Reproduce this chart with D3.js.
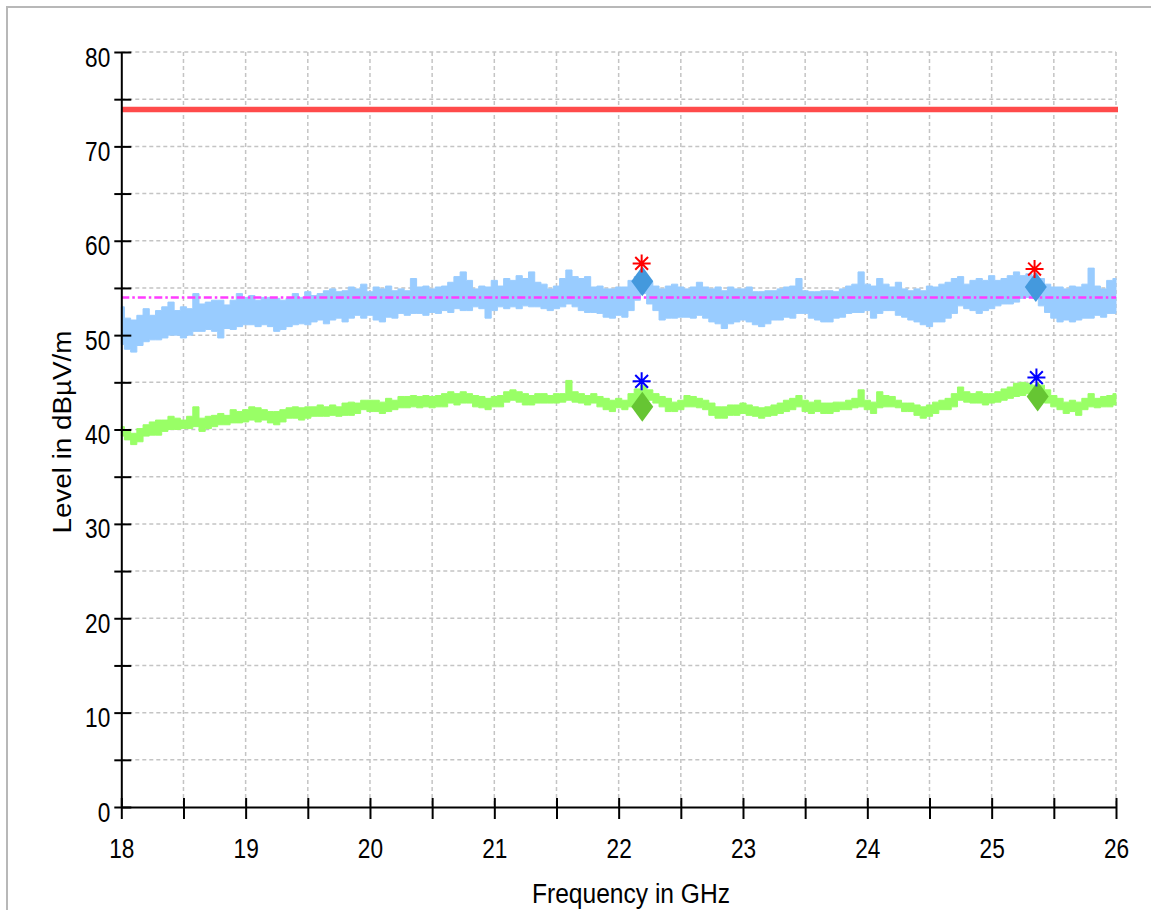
<!DOCTYPE html>
<html>
<head>
<meta charset="utf-8">
<script src="https://cdn.jsdelivr.net/npm/d3@7/dist/d3.min.js"></script>
<style>
  body { margin: 0; background: #fff; }
  text { font-family: "Liberation Sans", Arial, sans-serif; }
</style>
</head>
<body>
<script>
const width = 1151;
const height = 910;

const F_MIN = 18, F_MAX = 26, STEP = 0.05;

// sample frequencies (GHz) of the read-off traces
const freqs = d3.range(0, 161).map(i => +(F_MIN + i * STEP).toFixed(2));

// peak trace envelope (dBµV/m)
const peakHi = [
  53.0, 51.8, 51.6, 52.1, 52.8, 52.1, 52.6, 53.0, 53.5, 52.6,
  53.0, 52.8, 54.4, 53.3, 53.5, 53.7, 53.7, 53.2, 53.7, 54.4,
  54.0, 54.2, 53.7, 54.0, 54.0, 53.9, 53.7, 53.9, 54.4, 54.0,
  54.6, 54.2, 54.4, 54.7, 54.9, 54.6, 54.7, 55.1, 54.9, 55.4,
  54.6,
  55.1, 54.9, 55.2, 54.7, 54.9, 54.7, 56.0, 55.1, 55.2, 54.9,
  55.1, 55.2, 55.6, 56.2, 56.7, 55.8, 54.9, 55.2, 55.1, 55.8,
  55.2, 56.0, 55.8, 56.3, 56.0, 56.7, 55.6, 55.4, 54.9, 55.2,
  56.0, 56.9, 56.2, 56.0, 56.2, 55.1, 55.2, 54.9, 54.9, 55.1,
  55.1, 55.8, 56.2, 56.3, 55.6, 55.2, 54.9, 55.2, 55.4, 55.1,
  54.9, 55.1, 55.6, 55.1, 54.9, 55.1, 54.7, 55.1, 54.9, 54.9,
  55.1, 54.6, 54.6, 54.7, 54.7, 54.9, 55.1, 55.2, 56.0, 54.7,
  54.6, 54.6, 54.7, 54.7, 54.6, 54.9, 55.2, 55.4, 56.7, 55.4,
  55.2, 56.0, 55.4, 55.1, 55.6, 54.9, 54.7, 54.9, 54.7, 55.2,
  55.1, 55.4, 55.6, 56.0, 56.2, 55.4, 55.8, 56.0, 55.8, 56.3,
  55.8, 56.0, 56.3, 56.7, 56.3, 56.5, 56.2, 56.0, 55.4, 55.1,
  55.1, 54.9, 55.2, 55.1, 55.4, 57.1, 55.2, 54.9, 55.8, 56.0
];
const peakLo = [
  49.0, 48.5, 48.2, 48.9, 49.3, 49.5, 49.5, 49.7, 50.0, 50.0,
  49.7, 50.0, 50.4, 50.4, 50.6, 50.4, 49.7, 50.7, 50.6, 50.9,
  51.1, 51.1, 50.9, 51.1, 50.9, 50.4, 50.6, 50.9, 51.1, 51.2,
  51.1, 51.4, 51.6, 51.2, 51.6, 51.8, 51.4, 51.8, 52.1, 51.8,
  52.1,
  51.6, 51.4, 51.9, 51.8, 52.3, 52.1, 52.3, 52.3, 52.1, 52.4,
  52.3, 52.6, 52.4, 52.8, 52.6, 52.6, 53.0, 52.8, 51.8, 52.6,
  53.0, 52.8, 53.0, 52.8, 53.1, 53.0, 53.0, 52.8, 52.6, 52.8,
  53.0, 53.3, 53.0, 52.6, 52.4, 52.4, 52.3, 51.9, 51.8, 52.1,
  51.9, 52.6, 53.7, 54.4, 53.3, 52.6, 51.6, 51.8, 51.8, 51.9,
  51.9, 51.8, 52.1, 51.8, 51.4, 51.2, 50.7, 51.2, 51.4, 51.6,
  51.4, 51.1, 50.9, 51.2, 51.6, 51.6, 51.9, 51.8, 52.3, 52.3,
  51.8, 51.6, 51.4, 51.4, 51.8, 51.9, 52.3, 52.4, 52.4, 52.6,
  51.8, 52.3, 52.6, 52.6, 52.1, 51.9, 51.6, 51.4, 51.1, 50.9,
  51.4, 51.4, 51.8, 52.3, 53.1, 52.8, 52.6, 52.3, 52.6, 52.8,
  53.1, 53.3, 53.3, 53.5, 53.9, 54.0, 53.9, 53.1, 52.4, 51.8,
  51.4, 51.6, 51.4, 51.6, 51.8, 51.8, 52.1, 51.9, 52.3, 52.3
];

// average trace envelope (dBµV/m)
const avgHi = [
  40.3, 40.0, 39.6, 40.1, 40.5, 40.8, 41.0, 41.0, 41.4, 41.2,
  41.0, 41.4, 42.4, 41.2, 41.4, 41.5, 41.7, 41.5, 42.1, 41.9,
  42.1, 42.4, 42.3, 42.1, 41.9, 41.9, 42.1, 42.3, 42.4, 42.3,
  42.4, 42.4, 42.6, 42.4, 42.6, 42.4, 42.8, 42.9, 42.8, 43.1,
  43.1,
  43.1, 42.9, 43.3, 43.1, 43.5, 43.5, 43.6, 43.5, 43.6, 43.5,
  43.6, 43.8, 44.0, 43.8, 44.0, 43.8, 43.6, 43.5, 43.3, 43.5,
  43.6, 44.0, 44.2, 44.0, 43.8, 43.6, 43.8, 43.8, 43.6, 43.8,
  43.8, 45.2, 44.0, 43.8, 43.6, 43.8, 43.5, 43.3, 43.1, 43.3,
  43.1, 43.8, 44.3, 44.7, 44.2, 43.8, 43.5, 43.3, 42.9, 43.1,
  43.6, 43.5, 43.3, 43.1, 42.8, 42.4, 42.4, 42.6, 42.6, 42.8,
  42.6, 42.4, 42.3, 42.4, 42.6, 42.8, 43.1, 43.3, 43.6, 43.1,
  42.9, 43.1, 42.8, 42.8, 42.9, 42.9, 43.1, 43.3, 44.2, 43.1,
  42.9, 44.0, 43.6, 43.5, 43.1, 42.8, 42.8, 42.6, 42.4, 42.6,
  42.9, 43.1, 43.3, 43.8, 44.5, 44.0, 43.8, 44.0, 43.8, 43.8,
  44.0, 44.3, 44.5, 44.9, 45.0, 44.9, 44.7, 44.7, 44.2, 43.6,
  43.3, 42.9, 43.1, 42.9, 43.3, 43.8, 43.3, 43.5, 43.6, 43.8
];
const avgLo = [
  39.3, 38.9, 38.4, 38.7, 39.3, 39.4, 39.4, 39.8, 40.0, 40.0,
  40.1, 40.1, 40.3, 39.8, 40.1, 40.3, 40.5, 40.5, 40.7, 40.7,
  40.8, 41.0, 40.8, 41.0, 40.7, 40.5, 40.8, 41.2, 41.2, 41.0,
  41.2, 41.4, 41.4, 41.4, 41.5, 41.4, 41.5, 41.5, 41.7, 42.1,
  41.9,
  41.9, 41.7, 41.9, 42.1, 42.3, 42.3, 42.4, 42.3, 42.4, 42.3,
  42.4, 42.4, 42.8, 42.6, 42.8, 42.8, 42.4, 42.3, 42.1, 42.4,
  42.4, 42.9, 43.1, 42.9, 42.6, 42.6, 42.8, 42.8, 42.8, 42.8,
  42.9, 43.1, 42.9, 42.8, 42.6, 42.8, 42.4, 42.1, 41.9, 42.3,
  42.1, 42.4, 42.9, 43.3, 43.1, 42.8, 42.4, 41.9, 41.9, 42.1,
  42.4, 42.4, 42.3, 42.1, 41.5, 41.2, 41.2, 41.5, 41.5, 41.7,
  41.5, 41.4, 41.2, 41.4, 41.5, 41.7, 41.9, 42.1, 42.4, 41.9,
  41.7, 41.9, 41.7, 41.7, 41.9, 42.1, 42.1, 42.3, 42.4, 42.1,
  41.7, 42.3, 42.4, 42.4, 42.3, 41.9, 41.9, 41.5, 41.2, 41.4,
  41.7, 42.1, 42.1, 42.4, 43.1, 42.9, 42.8, 42.8, 42.6, 42.8,
  42.9, 43.1, 43.3, 43.5, 43.6, 43.8, 43.5, 43.1, 42.8, 42.4,
  42.1, 41.7, 41.9, 41.5, 42.1, 42.4, 42.3, 42.4, 42.4, 42.6
];

const LIMIT_PK = 73.9;
const LIMIT_AV = 54;

// final measurement markers
const peakStars    = [{ f: 22.185, v: 57.6 }, { f: 25.345, v: 57.0 }];
const peakDiamonds = [{ f: 22.19, v: 55.7 }, { f: 25.355, v: 55.1 }];
const avgStars     = [{ f: 22.185, v: 45.1 }, { f: 25.36, v: 45.5 }];
const avgDiamonds  = [{ f: 22.19, v: 42.4 }, { f: 25.37, v: 43.5 }];

const yTicks = d3.range(0, 81, 5);
const xTicks = d3.range(18, 26.001, 0.5);

const NARROW = 0.84; // condensed look of the original font

const svg = d3.select("body")
	.append("svg")
	.attr("width", width)
	.attr("height", height);

// outer frame
svg.append("rect")
	.attr("x", 7).attr("y", 7)
	.attr("width", 1200).attr("height", 1000)
	.attr("fill", "none")
	.attr("stroke", "#b8b8b8")
	.attr("stroke-width", 2);

const x = d3.scaleLinear().domain([F_MIN, F_MAX]).range([121.3, 1116]);
const y = d3.scaleLinear().domain([0, 80]).range([807, 52]);

// grid
const grid = svg.append("g")
	.attr("stroke", "#c4c4c4")
	.attr("stroke-width", 1.5)
	.attr("stroke-dasharray", "4,3");

grid.selectAll(".gh")
	.data(yTicks.filter(d => d > 0))
	.enter().append("line")
	.attr("x1", x(F_MIN)).attr("x2", x(F_MAX))
	.attr("y1", d => y(d)).attr("y2", d => y(d));

grid.selectAll(".gv")
	.data(xTicks.filter(d => d > F_MIN))
	.enter().append("line")
	.attr("x1", d => x(d)).attr("x2", d => x(d))
	.attr("y1", y(80)).attr("y2", y(0));

// traces
const band = (hi, lo) => d3.area()
	.curve(d3.curveStep)
	.x((d, i) => x(freqs[i]))
	.y0((d, i) => y(lo[i]))
	.y1((d, i) => y(hi[i]));

svg.append("path")
	.attr("d", band(peakHi, peakLo)(freqs))
	.attr("fill", "#99ccff")
	.attr("stroke", "#99ccff")
	.attr("stroke-width", 1);

svg.append("path")
	.attr("d", band(avgHi, avgLo)(freqs))
	.attr("fill", "#99ff66")
	.attr("stroke", "#99ff66")
	.attr("stroke-width", 1);

// limit lines
svg.append("line")
	.attr("x1", x(F_MIN)).attr("x2", x(F_MAX) + 2)
	.attr("y1", y(LIMIT_PK)).attr("y2", y(LIMIT_PK))
	.attr("stroke", "#ff4b4b")
	.attr("stroke-width", 5.5);

svg.append("line")
	.attr("x1", x(F_MIN)).attr("x2", x(F_MAX))
	.attr("y1", y(LIMIT_AV)).attr("y2", y(LIMIT_AV))
	.attr("stroke", "#ff3cff")
	.attr("stroke-width", 2.5)
	.attr("stroke-dasharray", "8,3,2.5,3");

// markers
const diamond = "M0,-15L11,0L0,15L-11,0Z";
const star = "M-9,0H9M0,-9V9M-6.4,-6.4L6.4,6.4M-6.4,6.4L6.4,-6.4";

function drawMarkers(data, path, color, filled) {
	svg.selectAll(null)
		.data(data)
		.enter().append("path")
		.attr("transform", d => "translate(" + x(d.f) + "," + y(d.v) + ")")
		.attr("d", path)
		.attr("fill", filled ? color : "none")
		.attr("stroke", filled ? "none" : color)
		.attr("stroke-width", 2);
}
drawMarkers(peakDiamonds, diamond, "#4499dd", true);
drawMarkers(avgDiamonds, diamond, "#66c533", true);
drawMarkers(peakStars, star, "#ff0000", false);
drawMarkers(avgStars, star, "#0000ff", false);

// axes
const yAxis = svg.append("g")
	.attr("transform", "translate(" + x(F_MIN) + ",0)")
	.call(d3.axisLeft(y).tickValues(yTicks).tickSizeOuter(0)
		.tickFormat(d => d % 10 === 0 ? d : ""));
yAxis.selectAll(".tick line").attr("x1", -7).attr("x2", 10);
yAxis.selectAll(".tick text")
	.attr("x", 0).attr("dy", 0)
	.attr("transform", "translate(-11,14) scale(" + NARROW + ",1)")
	.attr("font-size", 27).attr("fill", "#000");

const xAxis = svg.append("g")
	.attr("transform", "translate(0," + y(0) + ")")
	.call(d3.axisBottom(x).tickValues(xTicks).tickSizeOuter(0)
		.tickFormat(d => Number.isInteger(d) ? d : ""));
xAxis.selectAll(".tick line").attr("y1", -9).attr("y2", 12);
xAxis.selectAll(".tick text")
	.attr("y", 0).attr("dy", 0)
	.attr("transform", "translate(0,51) scale(" + NARROW + ",1)")
	.attr("font-size", 27).attr("fill", "#000");

svg.selectAll(".domain").attr("stroke", "#000").attr("stroke-width", 2);
svg.selectAll(".tick line").attr("stroke", "#000").attr("stroke-width", 2);
svg.selectAll(".tick").attr("font-family", null);
svg.selectAll("g").attr("font-family", null);

// titles
svg.append("text")
	.attr("x", 631).attr("y", 903)
	.attr("text-anchor", "middle")
	.attr("font-size", 27)
	.attr("textLength", 198)
	.attr("lengthAdjust", "spacingAndGlyphs")
	.text("Frequency in GHz");

svg.append("text")
	.attr("transform", "translate(71,432) rotate(-90)")
	.attr("text-anchor", "middle")
	.attr("font-size", 26)
	.attr("textLength", 203)
	.attr("lengthAdjust", "spacingAndGlyphs")
	.text("Level in dBµV/m");
</script>
</body>
</html>
